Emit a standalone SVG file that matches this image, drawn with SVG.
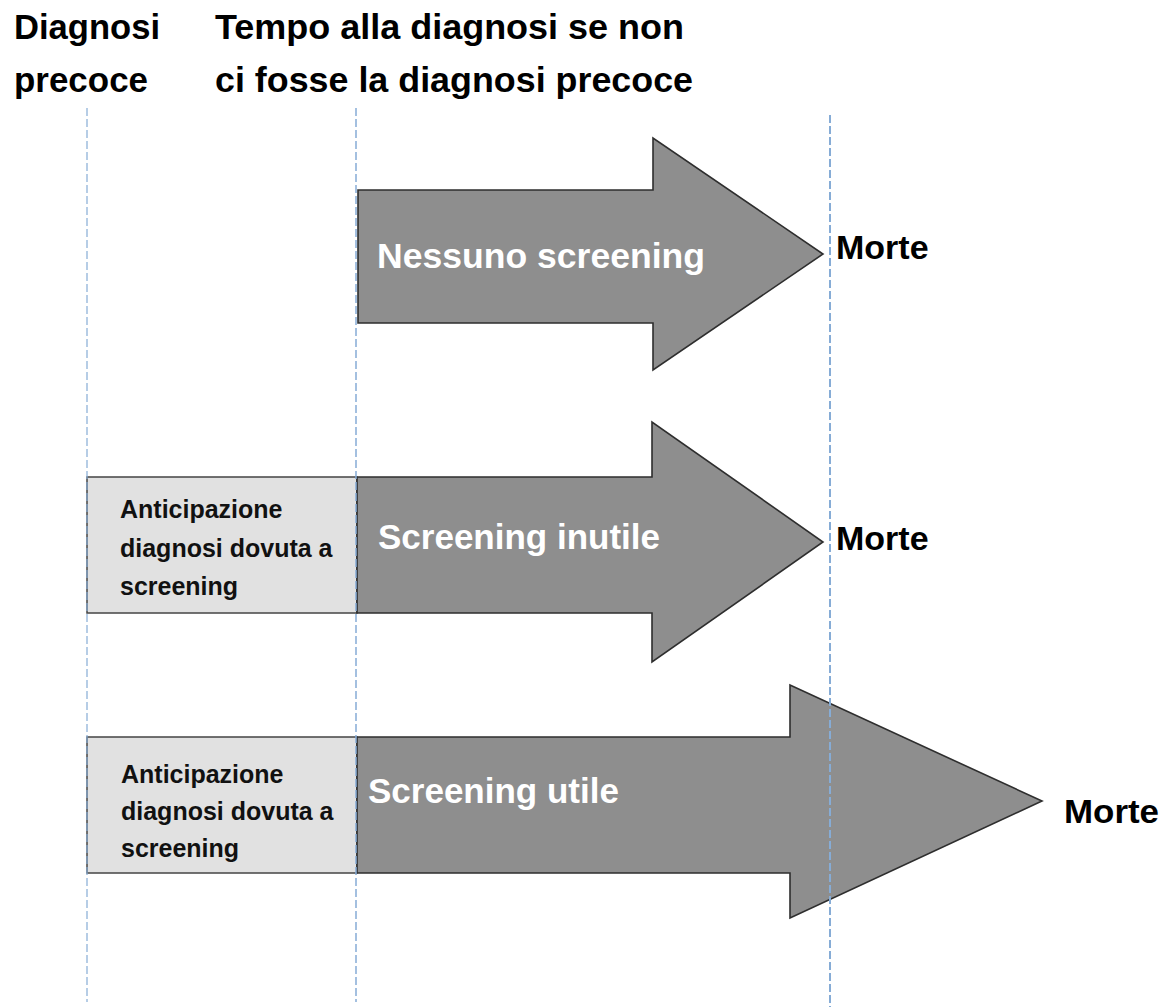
<svg xmlns="http://www.w3.org/2000/svg" width="1165" height="1007" viewBox="0 0 1165 1007">
<style>
.hdr{font-family:"Liberation Sans",Arial,sans-serif;font-weight:bold;font-size:35px;fill:#000}
.lbl{font-family:"Liberation Sans",Arial,sans-serif;font-weight:bold;font-size:35px;fill:#fff}
.box{fill:#e1e1e1;stroke:#444;stroke-width:1.5}
.boxt{font-family:"Liberation Sans",Arial,sans-serif;font-weight:bold;font-size:25px;fill:#111}
.arrow{fill:#8e8e8e;stroke:#2e2e2e;stroke-width:1.6;stroke-linejoin:miter}
.morte{font-family:"Liberation Sans",Arial,sans-serif;font-weight:bold;font-size:34px;fill:#000}
.guide{stroke:#86acd6;stroke-dasharray:8 3;fill:none}
</style>
<rect width="1165" height="1007" fill="#fff"/>
<g id="header">
<text class="hdr" x="14" y="39" textLength="146" lengthAdjust="spacingAndGlyphs">Diagnosi</text>
<text class="hdr" x="14" y="92" textLength="134" lengthAdjust="spacingAndGlyphs">precoce</text>
<text class="hdr" x="215" y="39" textLength="469" lengthAdjust="spacingAndGlyphs">Tempo alla diagnosi se non</text>
<text class="hdr" x="215" y="92" textLength="478" lengthAdjust="spacingAndGlyphs">ci fosse la diagnosi precoce</text>
</g>
<g id="arrow-nessuno">
<polygon class="arrow" points="358,190 653,190 653,138 823,254 653,370 653,323 358,323"/>
<text class="lbl" x="377" y="268" textLength="328" lengthAdjust="spacingAndGlyphs">Nessuno screening</text>
<text class="morte" x="836" y="259">Morte</text>
</g>
<g id="row-inutile">
<rect class="box" x="87" y="477" width="270" height="136"/>
<text class="boxt" x="120" y="518">Anticipazione</text>
<text class="boxt" x="120" y="557">diagnosi dovuta a</text>
<text class="boxt" x="120" y="595">screening</text>
<polygon class="arrow" points="357,477 652,477 652,422 823,542 652,662 652,613 357,613"/>
<text class="lbl" x="378" y="549">Screening inutile</text>
<text class="morte" x="836" y="550">Morte</text>
</g>
<g id="row-utile">
<rect class="box" x="87" y="737" width="270" height="136"/>
<text class="boxt" x="121" y="783">Anticipazione</text>
<text class="boxt" x="121" y="820">diagnosi dovuta a</text>
<text class="boxt" x="121" y="857">screening</text>
<polygon class="arrow" points="357,737 790,737 790,685 1042,801 790,918 790,873 357,873"/>
<text class="lbl" x="368" y="803">Screening utile</text>
<text class="morte" x="1064" y="823" textLength="95" lengthAdjust="spacingAndGlyphs">Morte</text>
</g>
<g id="connectors">
<line class="guide" x1="87" y1="108" x2="87" y2="1002" stroke-width="1.2"/>
<line class="guide" x1="356" y1="108" x2="356" y2="1002" stroke-width="1.5"/>
<line class="guide" x1="830" y1="115" x2="830" y2="1007" stroke-width="2"/>
</g>
</svg>
